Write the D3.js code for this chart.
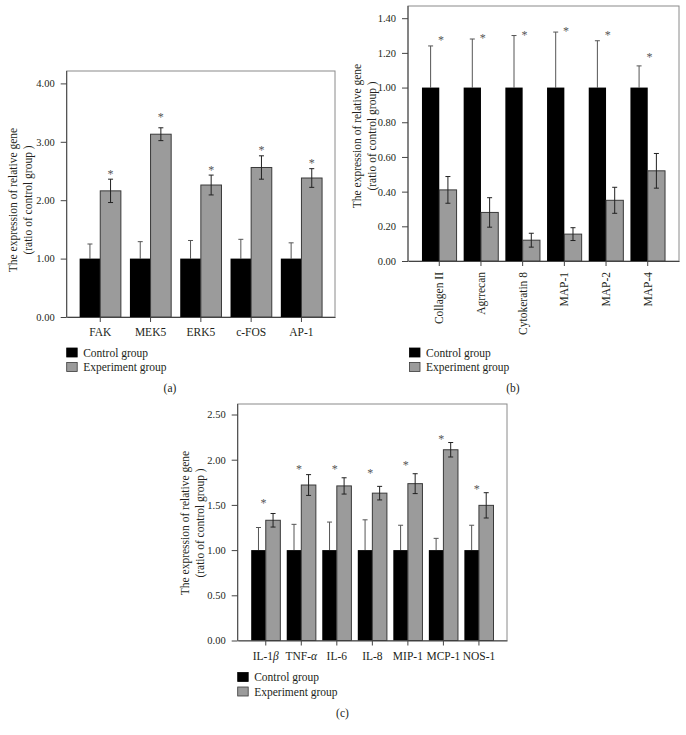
<!DOCTYPE html>
<html><head><meta charset="utf-8">
<script src="https://cdn.jsdelivr.net/npm/d3@7"></script>
<style>
html,body{margin:0;padding:0;background:#fff;}
svg{display:block;font-family:"Liberation Serif","Times New Roman",serif;}
</style></head>
<body>
<svg id="chart" width="686" height="735"></svg>
<script>
// ---------- DATA ----------
const seriesNames = ["Control group", "Experiment group"];

const catsA = ["FAK", "MEK5", "ERK5", "c-FOS", "AP-1"];
const ctrlA = [1.00, 1.00, 1.00, 1.00, 1.00];
const ctrlErrA = [0.25, 0.29, 0.31, 0.33, 0.27];
const expA = [2.16, 3.13, 2.26, 2.56, 2.38];
const expErrA = [0.20, 0.11, 0.17, 0.20, 0.16];
const starA = [2.50, 3.47, 2.56, 2.90, 2.69];
const ticksA = [0, 1, 2, 3, 4];

const catsB = ["Collagen II", "Agrrecan", "Cytokeratin 8", "MAP-1", "MAP-2", "MAP-4"];
const ctrlB = [1.00, 1.00, 1.00, 1.00, 1.00, 1.00];
const ctrlErrB = [0.24, 0.28, 0.30, 0.32, 0.27, 0.125];
const expB = [0.41, 0.28, 0.12, 0.155, 0.35, 0.52];
const expErrB = [0.077, 0.085, 0.04, 0.037, 0.075, 0.10];
const starB = [1.29, 1.30, 1.32, 1.34, 1.32, 1.19];
const ticksB = [0, 0.2, 0.4, 0.6, 0.8, 1.0, 1.2, 1.4];

const catsC = ["IL-1β", "TNF-α", "IL-6", "IL-8", "MIP-1", "MCP-1", "NOS-1"];
const ctrlC = [1.00, 1.00, 1.00, 1.00, 1.00, 1.00, 1.00];
const ctrlErrC = [0.25, 0.285, 0.31, 0.335, 0.275, 0.13, 0.275];
const expC = [1.33, 1.72, 1.71, 1.63, 1.735, 2.11, 1.495];
const expErrC = [0.075, 0.115, 0.09, 0.075, 0.11, 0.08, 0.14];
const starC = [1.55, 1.93, 1.93, 1.88, 1.975, 2.255, 1.70];
const ticksC = [0, 0.5, 1.0, 1.5, 2.0, 2.5];

// ---------- DRAW ----------
const svg = d3.select("#chart");
const TXT = "#231f20";

function drawPanel(cfg) {
  const g = svg.append("g");
  const x = d3.scaleBand().domain(cfg.cats).range([cfg.left, cfg.right])
    .paddingInner(0).paddingOuter(cfg.padOuter);
  const y = d3.scaleLinear().domain([0, cfg.yMax]).range([cfg.bottom, cfg.yMaxPx]);
  const bw = x.bandwidth() * cfg.barFrac;
  const cx = c => x(c) + x.bandwidth() / 2;

  // frame
  g.append("rect").attr("x", cfg.left).attr("y", cfg.top)
    .attr("width", cfg.right - cfg.left).attr("height", cfg.bottom - cfg.top)
    .attr("fill", "none").attr("stroke", "#8a8a8a").attr("stroke-width", 1);

  // control error bars (one-sided, drawn behind the bar)
  cfg.cats.forEach((c, i) => {
    const xc = cx(c) - bw / 2;
    const top = y(cfg.ctrl[i] + cfg.ctrlErr[i]);
    g.append("line").attr("x1", xc).attr("x2", xc).attr("y1", y(cfg.ctrl[i])).attr("y2", top)
      .attr("stroke", "#555").attr("stroke-width", 1);
    g.append("line").attr("x1", xc - 2.5).attr("x2", xc + 2.5).attr("y1", top).attr("y2", top)
      .attr("stroke", "#555").attr("stroke-width", 1);
  });

  // bars
  g.selectAll(".ctrl").data(cfg.cats).join("rect")
    .attr("x", c => cx(c) - bw).attr("width", bw)
    .attr("y", (c, i) => y(cfg.ctrl[i])).attr("height", (c, i) => y(0) - y(cfg.ctrl[i]))
    .attr("fill", "#000");
  g.selectAll(".exp").data(cfg.cats).join("rect")
    .attr("x", c => cx(c)).attr("width", bw)
    .attr("y", (c, i) => y(cfg.exp[i])).attr("height", (c, i) => y(0) - y(cfg.exp[i]))
    .attr("fill", "#9b9b9b").attr("stroke", "#3a3a3a").attr("stroke-width", 1);

  // experiment error bars
  cfg.cats.forEach((c, i) => {
    const xc = cx(c) + bw / 2;
    const t = y(cfg.exp[i] + cfg.expErr[i]), b = y(cfg.exp[i] - cfg.expErr[i]);
    g.append("line").attr("x1", xc).attr("x2", xc).attr("y1", t).attr("y2", b)
      .attr("stroke", "#222").attr("stroke-width", 1);
    [t, b].forEach(yy => g.append("line").attr("x1", xc - 2.5).attr("x2", xc + 2.5)
      .attr("y1", yy).attr("y2", yy).attr("stroke", "#222").attr("stroke-width", 1));
  });

  // stars
  g.selectAll(".star").data(cfg.cats).join("text")
    .attr("x", c => cx(c) + cfg.starDx * bw).attr("y", (c, i) => y(cfg.star[i]))
    .attr("dy", "0.55em").attr("text-anchor", "middle")
    .attr("font-size", 12).attr("fill", "#555").text("*");

  // y axis
  const ya = g.append("g").attr("transform", `translate(${cfg.left},0)`)
    .call(d3.axisLeft(y).tickValues(cfg.ticks).tickFormat(d3.format(".2f")).tickSize(6).tickPadding(6));
  ya.select(".domain").attr("stroke", "#444").attr("d", `M0,${cfg.bottom}V${cfg.top}`);
  ya.selectAll(".tick line").attr("stroke", "#444");
  ya.selectAll(".tick text").attr("font-family", "Liberation Serif").attr("font-size", 10.5).attr("fill", TXT);

  // x axis
  const xa = g.append("g").attr("transform", `translate(0,${cfg.bottom})`)
    .call(d3.axisBottom(x).tickSize(5).tickPadding(4).tickSizeOuter(0));
  xa.select(".domain").attr("stroke", "#444");
  xa.selectAll(".tick line").attr("stroke", "#444");
  xa.selectAll(".tick text").remove();
  const lab = g.selectAll(".xl").data(cfg.cats).join("text")
    .attr("font-size", 11.5).attr("fill", TXT);
  if (cfg.rotate) {
    lab.attr("text-anchor", "end")
      .attr("transform", c => `translate(${cx(c) + 4},${cfg.bottom + 11}) rotate(-90)`);
  } else {
    lab.attr("text-anchor", "middle").attr("x", cx).attr("y", cfg.bottom + 19);
  }
  lab.each(function (c) {
    const t = d3.select(this);
    const m = c.match(/^(.*?)([αβ])(.*)$/);
    if (m) {
      t.append("tspan").text(m[1]);
      t.append("tspan").attr("font-style", "italic").text(m[2]);
      if (m[3]) t.append("tspan").text(m[3]);
    } else t.text(c);
  });

  // y title
  const ty = g.append("text").attr("transform", `translate(${cfg.titleX},${cfg.titleY}) rotate(-90)`)
    .attr("text-anchor", "middle").attr("font-size", 11.5).attr("fill", TXT);
  ty.append("tspan").attr("x", 0).attr("dy", 0).text("The expression of relative gene");
  ty.append("tspan").attr("x", 0).attr("dy", 15).text("(ratio of control group )");

  // legend
  const fills = ["#000", "#9b9b9b"];
  seriesNames.forEach((s, i) => {
    const ly = cfg.legY + i * 14.5;
    g.append("rect").attr("x", cfg.legX).attr("y", ly - 4.5).attr("width", 10.5).attr("height", 9)
      .attr("fill", fills[i]).attr("stroke", i ? "#3a3a3a" : "#000").attr("stroke-width", 0.8);
    g.append("text").attr("x", cfg.legX + 16.5).attr("y", ly).attr("dy", "0.35em")
      .attr("font-size", 11.5).attr("fill", TXT).text(s);
  });

  g.append("text").attr("x", cfg.capX).attr("y", cfg.capY).attr("dy", "0.35em")
    .attr("text-anchor", "middle").attr("font-size", 11.5).attr("fill", TXT).text(cfg.caption);
}

drawPanel({
  cats: catsA, ctrl: ctrlA, ctrlErr: ctrlErrA, exp: expA, expErr: expErrA, star: starA, ticks: ticksA,
  left: 66.7, right: 335, top: 71, bottom: 317, yMax: 4, yMaxPx: 83.4,
  padOuter: 0.167, barFrac: 0.41, starDx: 0.5, rotate: false,
  titleX: 17, titleY: 200, legX: 66.7, legY: 352.5, capX: 170, capY: 388, caption: "(a)"
});
drawPanel({
  cats: catsB, ctrl: ctrlB, ctrlErr: ctrlErrB, exp: expB, expErr: expErrB, star: starB, ticks: ticksB,
  left: 408, right: 679, top: 6, bottom: 261, yMax: 1.4, yMaxPx: 18.2,
  padOuter: 0.25, barFrac: 0.415, starDx: 0.1, rotate: true,
  titleX: 361, titleY: 136, legX: 409.5, legY: 352.5, capX: 513, capY: 388, caption: "(b)"
});
drawPanel({
  cats: catsC, ctrl: ctrlC, ctrlErr: ctrlErrC, exp: expC, expErr: expErrC, star: starC, ticks: ticksC,
  left: 237.7, right: 507, top: 404, bottom: 640.5, yMax: 2.5, yMaxPx: 414.5,
  padOuter: 0.29, barFrac: 0.41, starDx: -0.15, rotate: false,
  titleX: 189, titleY: 523, legX: 237.7, legY: 677, capX: 342.5, capY: 713, caption: "(c)"
});
</script>
</body></html>
